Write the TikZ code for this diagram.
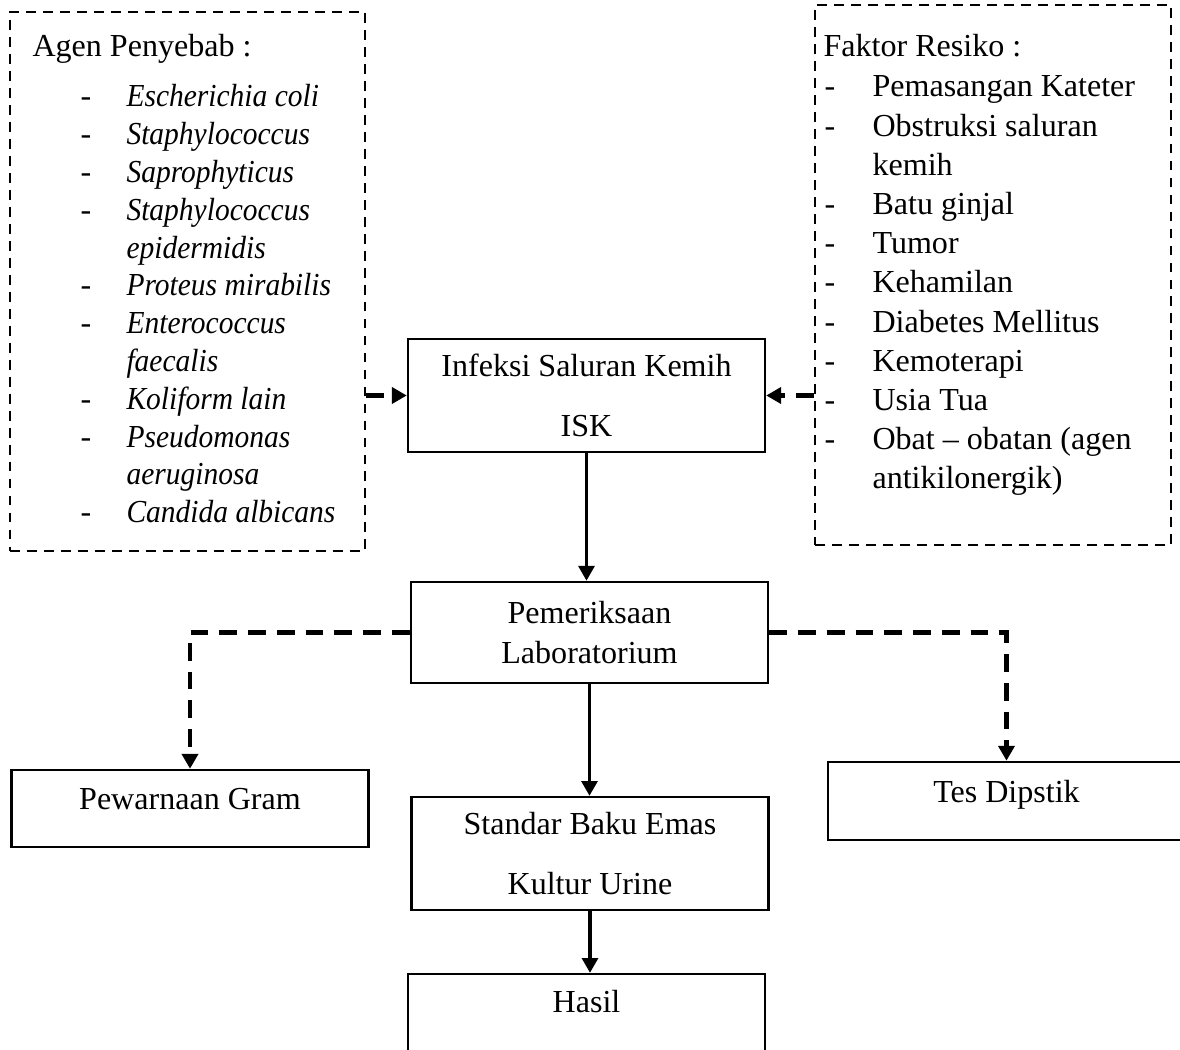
\documentclass[tikz,border=0pt]{standalone}
\usepackage{fontspec}
\setmainfont{Liberation Serif}[ItalicFeatures={FakeStretch=0.92}]
\usetikzlibrary{arrows.meta}

\begin{document}
\begin{tikzpicture}[x=0.365pt,y=-0.365pt,>={Triangle[length=5.4pt,width=5.8pt]},
  font=\fontsize{11.7}{14.4}\selectfont,
  box node/.style={draw,line width=0.9pt,minimum width=130.3pt,align=center,inner sep=0pt},
  list node/.style={draw,dash pattern=on 3.6pt off 2.6pt,line width=0.8pt,inner sep=0pt},
  item node/.style={anchor=base west,inner sep=0pt},
  link/.style={->,line width=1.2pt},
  dashed link/.style={->,line width=1.5pt,dash pattern=on 6.5pt off 4pt}]

  \useasboundingbox (0,0) rectangle (1180,1050);

  \node[list node,minimum width=129.6pt,minimum height=196.7pt] (agen) at (187.5,281.5) {};
  \node[list node,minimum width=129.9pt,minimum height=197.1pt] (faktor) at (993,275) {};

  \node[box node,minimum height=41.2pt] (isk) at (586.5,395.5) {Infeksi Saluran Kemih\\[7.5pt]ISK};
  \node[box node,minimum height=36.9pt] (lab) at (589.5,632.5) {Pemeriksaan\\Laboratorium};
  \node[box node,minimum height=28.1pt,text depth=7.1pt] (gram) at (190,808.5) {Pewarnaan Gram};
  \node[box node,minimum height=28.5pt,text depth=7.2pt] (dipstik) at (1006.5,801) {Tes Dipstik};
  \node[box node,minimum height=41.2pt] (kultur) at (590,853.5) {Standar Baku Emas\\[7.5pt]Kultur Urine};
  \node[box node,minimum height=41.2pt,text depth=21pt] (hasil) at (586.5,1030.5) {Hasil};

%agen penyebab
  \node[item node] (agen head) at (32,57) {Agen Penyebab :};
  \foreach \t [count=\i] in {Escherichia coli,Staphylococcus,Saprophyticus,Staphylococcus,
      epidermidis,Proteus mirabilis,Enterococcus,faecalis,Koliform lain,Pseudomonas,
      aeruginosa,Candida albicans}
    \node[item node] (agen item \i) at (126,{107+37.8*(\i-1)}) {\textit{\t}};
  \foreach \i in {1,2,3,4,6,7,9,10,12}
    \node[item node] (agen dash \i) at (80,{107+37.8*(\i-1)}) {-};

%faktor resiko
  \node[item node] (faktor head) at (823,57) {Faktor Resiko :};
  \foreach \t [count=\i] in {Pemasangan Kateter,Obstruksi saluran,kemih,Batu ginjal,Tumor,
      Kehamilan,Diabetes Mellitus,Kemoterapi,Usia Tua,Obat – obatan (agen,antikilonergik)}
    \node[item node] (faktor item \i) at (872,{97+39.2*(\i-1)}) {\t};
  \foreach \i in {1,2,4,5,6,7,8,9,10}
    \node[item node] (faktor dash \i) at (824,{97+39.2*(\i-1)}) {-};

%connexion
  \draw[dashed link] (agen.east |- isk.west) -- (isk.west);
  \draw[dashed link] (faktor.west |- isk.east) -- (isk.east);
  \draw[link] (isk.south) -- (isk.south |- lab.north);
  \draw[dashed link] (lab.west) -| (gram.north);
  \draw[dashed link] (lab.east) -| (dipstik.north);
  \draw[link] (lab.south) -- (lab.south |- kultur.north);
  \draw[link] (kultur.south) -- (kultur.south |- hasil.north);

\end{tikzpicture}
\end{document}
